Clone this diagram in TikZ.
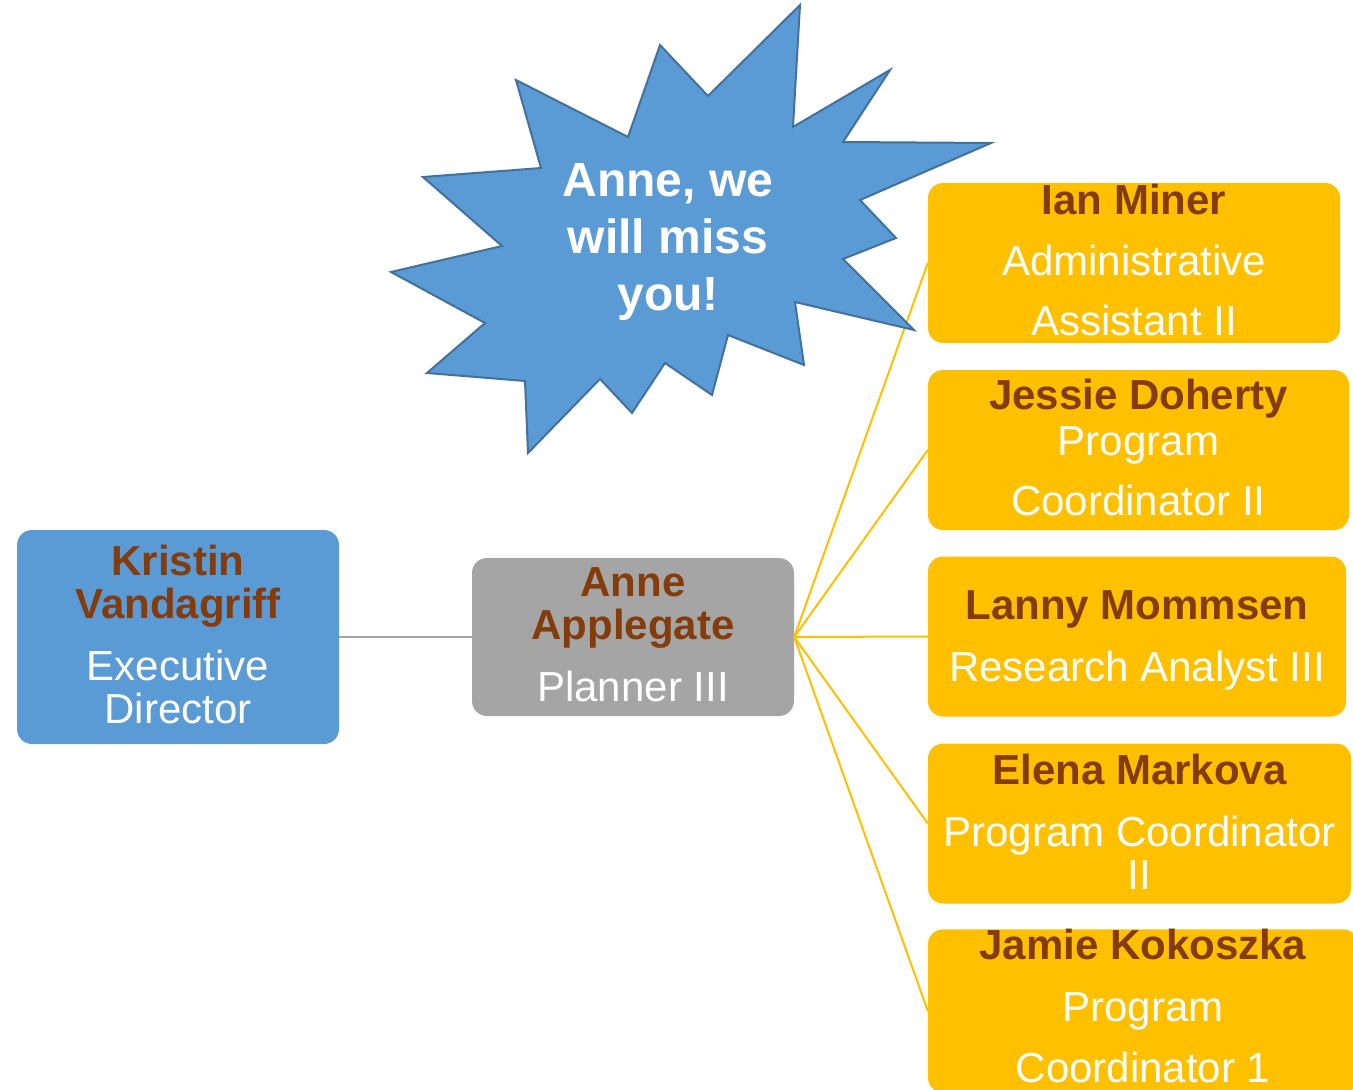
\documentclass[tikz,border=0pt]{standalone}
\usepackage{fontspec}
\setmainfont{Liberation Sans}
\usepackage{tikz}
\definecolor{bleu}{HTML}{5B9BD5}
\definecolor{bleufonce}{HTML}{41719C}
\definecolor{gris}{HTML}{A5A5A5}
\definecolor{jaune}{HTML}{FFC000}
\definecolor{brun}{HTML}{843C0C}
\newcommand{\nom}[1]{{\bfseries\color{brun}#1}}

\begin{document}
\begin{tikzpicture}[x=1pt,y=-1pt]
	% STYLES
	\tikzstyle{boite} = [rounded corners=15pt, inner sep=0pt, align=center, text=white, text depth=6pt, font=\fontsize{42}{43}\selectfont]
	\tikzstyle{directeur} = [boite, fill=bleu, minimum width=322pt, minimum height=214pt]
	\tikzstyle{planner} = [boite, fill=gris, minimum width=322pt, minimum height=158pt]
	\tikzstyle{equipe} = [boite, fill=jaune, minimum height=160pt]
	\tikzstyle{lien} = [line width=2.5pt, draw=gris]
	\tikzstyle{lienjaune} = [line width=2pt, draw=jaune]
	\tikzstyle{etoile} = [fill=bleu, draw=bleufonce, line width=2pt, line join=miter]
	\tikzstyle{message} = [align=center, text=white, font=\bfseries\fontsize{48}{57}\selectfont]

	\useasboundingbox (0,0) rectangle (1353,1090);

	% NOEUDS
	\node[directeur] at (178, 637) (KV) {\nom{Kristin}\\\nom{Vandagriff}\\[19pt]Executive\\Director};
	\node[planner, text depth=4pt] at (633, 637) (AA) {\nom{Anne}\\\nom{Applegate}\\[19pt]Planner III};

	\node[equipe, minimum width=412pt] at (1134, 263) (IM) {\nom{Ian Miner}\\[18pt]Administrative\\[17pt]Assistant II};
	\node[equipe, minimum width=421pt] at (1138.5, 450) (JD) {\nom{Jessie Doherty}\\[3pt]Program\\[17pt]Coordinator II};
	\node[equipe, minimum width=418pt, text depth=1pt] at (1137, 636.5) (LM) {\nom{Lanny Mommsen}\\[19pt]Research Analyst III};
	\node[equipe, minimum width=423pt, text depth=4pt] at (1139.5, 823.5) (EM) {\nom{Elena Markova}\\[19pt]Program Coordinator\\II};
	\node[equipe, minimum width=430pt, text depth=10pt] at (1143, 1011) (JK) {\nom{Jamie Kokoszka}\\[19pt]Program\\[18pt]Coordinator 1};

	% LIENS
	\path[lien] (KV.east) -- (AA.west);
	\foreach \n in {IM, JD, LM, EM, JK}
		\path[lienjaune] (AA.east) -- (\n.west);

	% ETOILE
	\path[etoile]
		(800,5) -- (793,127) -- (890,70) -- (843,142) -- (991,143)
		-- (860,200) -- (896,238) -- (843,259) -- (914,330)
		-- (795,302) -- (804,365) -- (728,335) -- (712,395)
		-- (665,363) -- (632,413) -- (600,379) -- (528,453)
		-- (525,381) -- (427,373) -- (485,323) -- (391,272)
		-- (502,246) -- (423,177) -- (541,168) -- (516,80)
		-- (628,137) -- (660,45) -- (708,96) -- cycle
	;
	\node[message] at (668, 242) (adieu) {Anne, we\\will miss\\you!};
\end{tikzpicture}
\end{document}
